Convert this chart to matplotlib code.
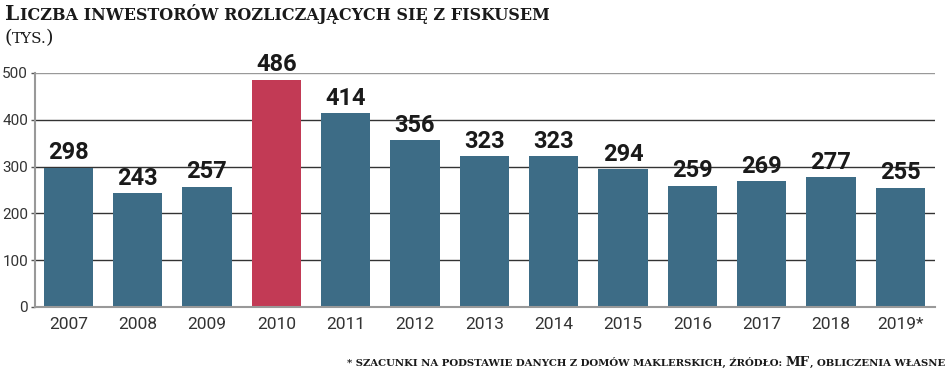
import matplotlib
matplotlib.use('Agg')
import matplotlib.pyplot as plt

years = ['2007', '2008', '2009', '2010', '2011', '2012', '2013',
         '2014', '2015', '2016', '2017', '2018', '2019*']
values = [298, 243, 257, 486, 414, 356, 323, 323, 294, 259, 269, 277, 255]
highlight = '2010'
yticks = [0, 100, 200, 300, 400, 500]

BLUE = '#3d6c86'
RED = '#c23a55'
SANS = ['Roboto', 'DejaVu Sans']
SERIF = ['DejaVu Serif']

W, H = 948, 370
fig = plt.figure(figsize=(W / 100, H / 100), dpi=100)
ax = fig.add_axes([35 / W, 63 / H, 900 / W, 234 / H])

x = list(range(len(years)))
colors = [RED if y == highlight else BLUE for y in years]

for t in yticks[1:]:
    ax.axhline(t, color='#999999' if t == yticks[-1] else '#333333',
               lw=1.0, zorder=1)

ax.bar(x, values, width=0.71, color=colors, zorder=2)

for xi, v in zip(x, values):
    ax.annotate(str(v), (xi, v), xytext=(0, 6), textcoords='offset points',
                ha='center', va='baseline', fontsize=17, fontweight='bold',
                family=SANS, color='#1a1a1a', zorder=3)

ax.set_xlim(-0.48, len(years) - 0.5)
ax.set_ylim(0, 500)
ax.set_xticks(x)
ax.set_xticklabels(years)
ax.set_yticks(yticks)
for lab in ax.get_xticklabels() + ax.get_yticklabels():
    lab.set_family(SANS)
    lab.set_color('#333333')
ax.tick_params(axis='x', length=0, pad=7, labelsize=12.5)
ax.tick_params(axis='y', length=3, width=1.0, color='#555555', pad=2,
               labelsize=11)
for s in ['top', 'right']:
    ax.spines[s].set_visible(False)
ax.spines['left'].set_color('#999999')
ax.spines['left'].set_linewidth(1.5)
ax.spines['bottom'].set_color('#999999')
ax.spines['bottom'].set_linewidth(1.5)
ax.spines['bottom'].set_zorder(4)

renderer = fig.canvas.get_renderer()


def runs_text(x0, y0, runs, align='left', color='#1a1a1a', weight='bold'):
    # runs: list of (text, fontsize, gap_px_before)
    objs = []
    widths = []
    for s, size, gap in runs:
        t = fig.text(0, y0 / H, s, fontsize=size, fontweight=weight,
                     family=SERIF, color=color, va='baseline', ha='left')
        w = t.get_window_extent(renderer).width
        objs.append((t, gap))
        widths.append(w)
    total = sum(widths) + sum(g for _, _, g in runs)
    cur = x0 if align == 'left' else x0 - total
    for (t, gap), w in zip(objs, widths):
        cur += gap
        t.set_x(cur / W)
        cur += w


# y given in pixels from bottom
runs_text(5, H - 20, [('L', 14.5, 0),
                      ('ICZBA INWESTORÓW ROZLICZAJĄCYCH SIĘ Z FISKUSEM', 11.5, 1)])
runs_text(5, H - 43, [('(', 14, 0), ('TYS.', 11, -1), (')', 14, -1)],
          weight='normal')
runs_text(945, H - 366,
          [('* SZACUNKI NA PODSTAWIE DANYCH Z DOMÓW MAKLERSKICH, ŹRÓDŁO:', 7.3, 0),
           ('MF', 9.5, 4),
           (', OBLICZENIA WŁASNE', 7.3, 0)], align='right')

fig.savefig('out.png', dpi=100, facecolor='white')
